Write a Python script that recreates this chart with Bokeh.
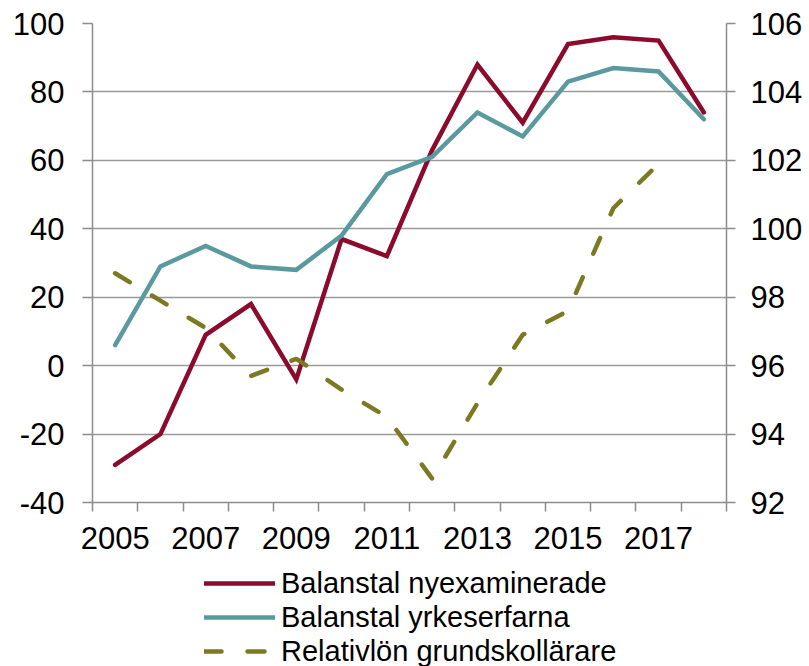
from bokeh.plotting import figure
from bokeh.layouts import column
from bokeh.models import (Range1d, LinearAxis, FixedTicker, Legend, LegendItem,
                          NumeralTickFormatter)
from bokeh.embed import file_html
from bokeh.resources import INLINE

years = [2005, 2006, 2007, 2008, 2009, 2010, 2011, 2012, 2013, 2014, 2015, 2016, 2017, 2018]
nyexaminerade = [-29, -20, 9, 18, -4, 37, 32, 63, 88, 71, 94, 96, 95, 74]
yrkeserfarna = [6, 29, 35, 29, 28, 38, 56, 61, 74, 67, 83, 87, 86, 72]
rel_years = [2005, 2006, 2007, 2008, 2009, 2010, 2011, 2012, 2013, 2014, 2015, 2016, 2017]
relativlon = [98.7, 97.9, 97.1, 95.7, 96.2, 95.3, 94.5, 92.7, 94.9, 96.9, 97.6, 100.6, 101.9]

x_labels = [2005, 2007, 2009, 2011, 2013, 2015, 2017]
left_ticks = [-40, -20, 0, 20, 40, 60, 80, 100]
right_ticks = [92, 94, 96, 98, 100, 102, 104, 106]
series_names = ["Balanstal nyexaminerade", "Balanstal yrkeserfarna",
                "Relativlön grundskollärare"]

RED = "#8C0A2B"
TEAL = "#5A9A9F"
OLIVE = "#7B7A22"
GRID = "#9a9a9a"
AXIS = "#8c8c8c"
FONT = "Liberation Sans"
TICK_FS = "31px"
DASH = "17 26"

p = figure(width=809, height=566, output_backend="svg", toolbar_location=None,
           x_range=Range1d(2004.5, 2018.5), y_range=Range1d(-40, 100),
           min_border_left=92, min_border_right=83, min_border_top=23,
           min_border_bottom=64, background_fill_color="white",
           border_fill_color="white", outline_line_color=None)
p.extra_y_ranges = {"right": Range1d(92, 106)}

# x axis: labels at odd years, tick marks at category boundaries
xa = p.xaxis[0]
xa.ticker = FixedTicker(ticks=x_labels,
                        minor_ticks=[y - 0.5 for y in years] + [years[-1] + 0.5])
xa.major_tick_out = 0
xa.major_tick_in = 0
xa.minor_tick_out = 9
xa.minor_tick_in = 0
xa.minor_tick_line_color = AXIS
xa.minor_tick_line_width = 1.5
xa.axis_line_color = AXIS
xa.axis_line_width = 1.5
xa.major_label_text_font = FONT
xa.major_label_text_font_size = TICK_FS
xa.major_label_text_color = "black"
xa.major_label_standoff = 15

ya = p.yaxis[0]
ya.ticker = FixedTicker(ticks=left_ticks)
ya.formatter = NumeralTickFormatter(format="0")
ya.minor_tick_line_color = None
ya.major_tick_out = 10
ya.major_tick_in = 0
ya.major_tick_line_color = AXIS
ya.major_tick_line_width = 1.5
ya.axis_line_color = AXIS
ya.axis_line_width = 1.5
ya.major_label_text_font = FONT
ya.major_label_text_font_size = TICK_FS
ya.major_label_text_color = "black"
ya.major_label_standoff = 18

ra = LinearAxis(y_range_name="right", ticker=FixedTicker(ticks=right_ticks),
                formatter=NumeralTickFormatter(format="0"))
ra.minor_tick_line_color = None
ra.major_tick_out = 9
ra.major_tick_in = 0
ra.major_tick_line_color = AXIS
ra.major_tick_line_width = 1.5
ra.axis_line_color = AXIS
ra.axis_line_width = 1.5
ra.major_label_text_font = FONT
ra.major_label_text_font_size = TICK_FS
ra.major_label_text_color = "black"
ra.major_label_standoff = 15
p.add_layout(ra, "right")

p.xgrid.grid_line_color = None
p.ygrid.ticker = FixedTicker(ticks=left_ticks)
p.ygrid.grid_line_color = GRID
p.ygrid.grid_line_width = 1.5

p.line(years, nyexaminerade, line_color=RED, line_width=4.5, line_join="miter",
       line_cap="round")
p.line(years, yrkeserfarna, line_color=TEAL, line_width=4.5, line_join="miter",
       line_cap="round")
p.line(rel_years, relativlon, y_range_name="right", line_color=OLIVE,
       line_width=4.5, line_dash=DASH, line_cap="round")

# legend area below the chart (series drawn out of view, only their legend shows)
lg = figure(width=809, height=106, output_backend="svg", toolbar_location=None,
            x_range=Range1d(0, 1), y_range=Range1d(0, 1),
            min_border_left=92, min_border_right=83, min_border_top=0,
            min_border_bottom=0, x_axis_location=None, y_axis_location=None,
            outline_line_color=None, background_fill_color="white",
            border_fill_color="white")
lg.xgrid.grid_line_color = None
lg.ygrid.grid_line_color = None
e1 = lg.line(years, nyexaminerade, line_color=RED, line_width=4.5, line_cap="round")
e2 = lg.line(years, yrkeserfarna, line_color=TEAL, line_width=4.5, line_cap="round")
e3 = lg.line(rel_years, relativlon, line_color=OLIVE, line_width=4.5,
             line_dash=DASH, line_cap="round")

legend = Legend(items=[LegendItem(label=series_names[0], renderers=[e1]),
                       LegendItem(label=series_names[1], renderers=[e2]),
                       LegendItem(label=series_names[2], renderers=[e3])],
                location=(112, 4), orientation="vertical",
                label_text_font=FONT, label_text_font_size="29px",
                label_text_color="black", glyph_width=71, glyph_height=34,
                label_height=34, label_standoff=6, spacing=0, padding=0,
                margin=0, border_line_color=None, background_fill_alpha=0)
lg.add_layout(legend, "center")

layout = column(p, lg, spacing=0)
open("out.html", "w").write(file_html(layout, INLINE))
